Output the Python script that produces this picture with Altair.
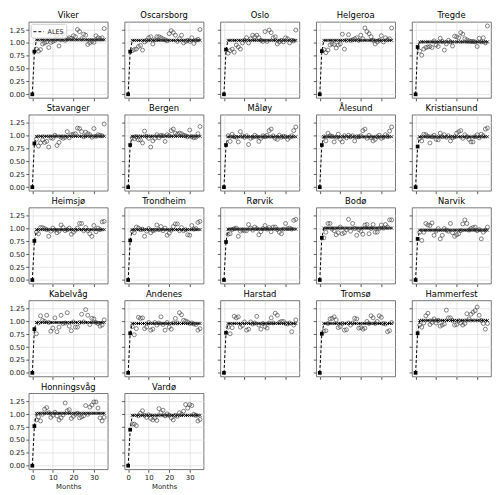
import altair as alt
import pandas as pd

NAMES = ["Viker", "Oscarsborg", "Oslo", "Helgeroa", "Tregde",
         "Stavanger", "Bergen", "Måløy", "Ålesund", "Kristiansund",
         "Heimsjø", "Trondheim", "Rørvik", "Bodø", "Narvik",
         "Kabelvåg", "Andenes", "Harstad", "Tromsø", "Hammerfest",
         "Honningsvåg", "Vardø"]

# ALES level reached from month 2 onward, and value at month 1
PLATEAU = [1.06, 1.05, 1.05, 1.05, 1.02,
           0.99, 0.99, 0.98, 0.98, 0.98,
           0.98, 0.98, 0.99, 1.01, 0.97,
           0.98, 0.96, 0.96, 0.96, 1.02,
           1.02, 0.98]
MONTH1 = [0.83, 0.83, 0.87, 0.84, 0.92,
          0.85, 0.82, 0.82, 0.82, 0.79,
          0.76, 0.77, 0.74, 0.82, 0.80,
          0.85, 0.77, 0.78, 0.76, 0.77,
          0.77, 0.70]

# observed values, months 2..35
OBS_VIKER = [0.88, 0.84, 0.87, 0.98, 1.00, 1.02, 0.91, 1.01, 1.03, 1.05, 1.14, 0.94, 1.06, 1.18, 1.05, 1.08, 1.10,
             1.09, 1.14, 1.12, 1.26, 1.22, 1.08, 1.17, 1.15, 0.97, 1.00, 1.03, 1.01, 1.14, 1.10, 1.08, 1.10, 1.28]
OBS_OSCARSBORG = [0.85, 0.87, 0.88, 0.93, 0.95, 0.86, 1.02, 1.05, 1.10, 1.12, 0.98, 1.06, 1.12, 1.12, 1.10, 1.08, 1.06,
                  1.04, 1.18, 1.24, 1.20, 1.15, 1.03, 1.08, 1.15, 1.00, 1.03, 1.05, 1.03, 1.10, 0.99, 1.05, 1.07, 1.26]
OBS_OSLO = [0.80, 0.85, 0.88, 0.82, 0.96, 0.92, 0.88, 1.00, 1.05, 1.10, 1.00, 1.08, 1.15, 1.12, 1.15, 1.10, 1.05,
            1.03, 1.22, 1.03, 1.25, 1.20, 1.10, 1.12, 0.98, 1.02, 1.05, 1.02, 1.10, 1.08, 1.00, 1.05, 1.04, 1.25]
OBS_HELGEROA = [0.87, 0.81, 0.86, 0.96, 0.98, 0.97, 0.90, 0.96, 0.98, 1.17, 0.88, 1.05, 1.16, 1.05, 1.06, 1.08, 1.10,
                1.05, 1.15, 1.08, 1.29, 1.22, 1.18, 1.12, 1.05, 0.98, 1.02, 1.05, 1.14, 1.02, 1.10, 1.06, 1.08, 1.29]
OBS_TREGDE = [0.84, 0.76, 0.88, 0.91, 0.92, 0.93, 0.91, 1.04, 0.96, 0.93, 1.09, 1.03, 0.86, 0.98, 1.05, 1.02, 0.94,
              1.13, 1.12, 1.10, 1.20, 1.17, 1.08, 1.06, 1.04, 1.03, 1.03, 1.02, 0.93, 1.09, 1.02, 1.10, 1.00, 1.33]
OBS_STAVANGER = [0.93, 0.80, 0.86, 0.92, 0.87, 0.89, 0.78, 0.96, 0.95, 1.01, 0.81, 0.87, 0.97, 0.95, 0.97, 1.08, 0.96,
                 1.02, 1.03, 1.04, 1.15, 1.14, 1.08, 0.98, 1.07, 1.04, 1.02, 0.97, 1.14, 0.99, 1.02, 1.01, 1.00, 1.23]
OBS_BERGEN = [0.96, 0.94, 0.98, 0.92, 0.92, 0.86, 1.09, 0.99, 0.95, 0.78, 0.90, 0.95, 1.02, 0.96, 1.01, 1.00, 0.89,
              1.02, 1.00, 1.10, 1.13, 1.05, 1.03, 1.05, 1.04, 1.01, 1.00, 0.98, 1.11, 0.98, 0.96, 0.97, 1.04, 1.18]
OBS_MALOY = [1.00, 0.89, 1.03, 0.98, 0.97, 0.88, 1.08, 1.00, 0.97, 1.00, 0.83, 0.95, 0.97, 1.01, 0.98, 0.89, 0.95,
             1.00, 0.98, 1.01, 1.10, 1.13, 1.00, 0.95, 0.93, 1.01, 0.97, 0.99, 0.98, 0.93, 0.97, 1.00, 1.10, 1.17]
OBS_ALESUND = [0.98, 0.90, 1.05, 1.00, 0.99, 0.88, 0.97, 1.03, 0.93, 0.88, 1.00, 0.96, 1.01, 0.98, 1.00, 0.90, 0.98,
               0.98, 1.00, 1.10, 1.13, 0.95, 1.01, 0.96, 0.90, 0.93, 0.98, 1.01, 0.95, 0.97, 1.02, 0.99, 1.09, 1.17]
OBS_KRISTIANSUND = [0.95, 0.90, 1.03, 1.02, 0.99, 0.86, 0.98, 1.01, 0.93, 0.92, 1.05, 0.98, 1.02, 0.97, 1.00, 0.90, 0.96,
                    0.98, 1.05, 1.08, 1.10, 0.95, 1.02, 0.98, 0.93, 0.88, 0.88, 0.98, 1.02, 0.96, 1.03, 1.00, 1.13, 1.15]
OBS_HEIMSJO = [0.93, 0.90, 1.02, 1.02, 1.00, 0.98, 0.85, 0.95, 1.01, 0.97, 0.92, 0.95, 1.07, 1.02, 0.96, 0.98, 1.01,
               0.89, 0.93, 0.97, 1.01, 1.10, 1.10, 0.96, 1.02, 0.96, 0.90, 0.85, 1.06, 0.94, 1.01, 0.98, 1.13, 1.14]
OBS_TRONDHEIM = [0.95, 0.92, 1.03, 1.01, 0.98, 0.99, 0.85, 0.95, 1.00, 0.92, 0.96, 0.97, 1.07, 0.98, 1.04, 0.96, 1.01,
                 0.87, 0.91, 0.97, 1.04, 1.09, 1.09, 0.96, 1.02, 0.96, 0.98, 0.88, 0.87, 1.06, 0.99, 1.00, 1.12, 1.14]
OBS_RORVIK = [0.89, 0.90, 0.98, 1.00, 1.01, 0.85, 0.95, 0.97, 0.96, 0.96, 1.08, 1.01, 0.97, 1.03, 1.00, 0.88, 0.94,
              1.00, 1.06, 0.99, 1.02, 0.94, 1.03, 1.03, 0.98, 0.93, 0.90, 0.99, 1.10, 1.00, 1.01, 0.99, 1.16, 1.18]
OBS_BODO = [0.82, 0.93, 1.10, 1.10, 0.99, 0.96, 0.88, 0.92, 1.03, 0.90, 0.92, 0.98, 1.18, 0.95, 1.10, 1.00, 0.87,
            0.98, 0.95, 0.89, 1.07, 1.08, 0.90, 1.00, 1.08, 0.93, 0.93, 1.00, 1.07, 1.01, 1.08, 1.03, 1.17, 1.17]
OBS_NARVIK = [0.93, 0.77, 0.93, 1.10, 1.07, 1.06, 1.11, 0.87, 0.95, 1.00, 0.80, 0.87, 1.00, 0.97, 0.95, 1.10, 0.92,
              0.85, 0.88, 0.90, 0.96, 1.09, 1.17, 1.10, 0.97, 1.00, 1.02, 1.03, 0.96, 0.98, 0.80, 0.93, 0.97, 1.03]
OBS_KABELVAG = [0.76, 0.97, 1.11, 1.02, 1.00, 1.12, 0.98, 0.81, 0.87, 1.07, 0.80, 0.89, 1.12, 0.96, 0.97, 1.17, 0.91,
                0.82, 0.99, 0.89, 0.89, 0.98, 1.14, 0.99, 1.23, 1.12, 0.94, 1.06, 1.05, 0.98, 0.96, 0.91, 0.93, 1.03]
OBS_ANDENES = [0.90, 0.74, 0.86, 1.08, 1.06, 1.07, 0.86, 0.89, 0.98, 0.83, 0.85, 0.98, 0.93, 0.97, 1.09, 0.94, 0.83,
               0.98, 0.89, 0.85, 0.97, 1.06, 0.97, 1.17, 1.13, 1.02, 1.01, 0.99, 0.96, 0.97, 0.95, 0.94, 0.83, 0.86]
OBS_HARSTAD = [0.89, 0.76, 0.88, 1.10, 1.07, 1.09, 0.89, 0.92, 0.99, 0.83, 0.85, 0.99, 0.95, 0.97, 1.10, 0.93, 0.85,
               0.96, 0.90, 0.87, 0.97, 1.07, 0.97, 1.16, 1.12, 0.98, 1.00, 1.00, 0.96, 0.95, 0.97, 0.80, 0.93, 1.03]
OBS_TROMSO = [0.81, 0.82, 0.96, 1.05, 1.06, 1.09, 1.03, 0.88, 0.90, 0.96, 0.83, 0.84, 0.97, 0.93, 0.97, 1.06, 1.05,
              0.87, 0.88, 0.85, 0.87, 1.00, 0.96, 1.11, 1.07, 0.96, 1.00, 1.11, 1.08, 0.96, 0.95, 0.80, 0.82, 0.98]
OBS_HAMMERFEST = [0.93, 0.89, 0.97, 1.11, 1.16, 0.94, 0.98, 1.05, 0.97, 1.02, 0.91, 0.93, 0.95, 1.22, 1.07, 1.07, 1.02,
                  0.93, 0.94, 1.01, 0.97, 0.93, 0.96, 1.15, 1.05, 1.14, 1.18, 1.21, 1.28, 1.12, 1.02, 0.96, 0.85, 0.96]
OBS_HONNINGSVAG = [0.89, 0.95, 0.87, 1.00, 1.10, 1.13, 1.03, 0.94, 0.98, 1.04, 0.97, 0.89, 0.93, 0.99, 1.22, 1.07, 1.09,
                   0.92, 0.96, 1.00, 1.02, 0.93, 0.95, 0.97, 1.17, 1.00, 1.14, 1.18, 1.24, 1.24, 1.12, 0.93, 0.87, 0.94]
OBS_VARDO = [0.81, 0.81, 0.78, 0.97, 1.02, 1.07, 0.98, 0.94, 0.99, 0.92, 0.89, 0.93, 0.88, 1.11, 1.03, 1.08, 0.97,
             1.01, 0.98, 0.93, 0.89, 0.98, 0.96, 1.03, 1.00, 1.06, 1.19, 1.12, 1.19, 1.17, 1.00, 0.98, 0.87, 0.90]

OBS = [OBS_VIKER, OBS_OSCARSBORG, OBS_OSLO, OBS_HELGEROA, OBS_TREGDE,
       OBS_STAVANGER, OBS_BERGEN, OBS_MALOY, OBS_ALESUND, OBS_KRISTIANSUND,
       OBS_HEIMSJO, OBS_TRONDHEIM, OBS_RORVIK, OBS_BODO, OBS_NARVIK,
       OBS_KABELVAG, OBS_ANDENES, OBS_HARSTAD, OBS_TROMSO, OBS_HAMMERFEST,
       OBS_HONNINGSVAG, OBS_VARDO]

MONTHS = list(range(36))
OBS_MONTHS = list(range(2, 36))
X_TICKS = [0, 10, 20, 30]
Y_TICKS = [0.0, 0.25, 0.5, 0.75, 1.0, 1.25]

XDOM = [-1.75, 36.75]
YDOM = [-0.07, 1.41]
W, H = 80, 77
FONT = "DejaVu Sans"
XSHAPE = "M-1,-1L1,1M-1,1L1,-1"


def panel(i, show_y, show_x, legend):
    ales = [0.0, MONTH1[i]] + [PLATEAU[i]] * len(OBS_MONTHS)
    line_df = pd.DataFrame({"month": MONTHS, "value": ales, "series": ["ALES"] * len(MONTHS)})
    cross_df = pd.DataFrame({"month": OBS_MONTHS, "value": ales[2:]})
    start_df = pd.DataFrame({"month": MONTHS[:2], "value": ales[:2]})
    obs_df = pd.DataFrame({"month": OBS_MONTHS, "value": OBS[i]})

    x = alt.X("month:Q", scale=alt.Scale(domain=XDOM, nice=False, zero=False),
              axis=alt.Axis(values=X_TICKS, labels=show_x, title="Months" if show_x else None,
                            grid=True, format="d"))
    y = alt.Y("value:Q", scale=alt.Scale(domain=YDOM, nice=False, zero=False),
              axis=alt.Axis(values=Y_TICKS, labels=show_y, title=None, grid=True, format=".2f"))

    if legend:
        line = alt.Chart(line_df).mark_line(color="black", strokeWidth=1, clip=True).encode(
            x=x, y=y,
            strokeDash=alt.StrokeDash("series:N", scale=alt.Scale(domain=["ALES"], range=[[3, 2]]),
                                      legend=alt.Legend(orient="top-left", title=None, symbolType="stroke",
                                                        symbolStrokeColor="black", symbolStrokeWidth=1,
                                                        symbolSize=110, labelFontSize=6.5, labelFont=FONT,
                                                        labelColor="#222222", padding=2, rowPadding=0,
                                                        fillColor="rgba(255,255,255,0.8)",
                                                        strokeColor="#cccccc", cornerRadius=2, offset=2,
                                                        labelOffset=3)))
    else:
        line = alt.Chart(line_df).mark_line(color="black", strokeWidth=1, strokeDash=[3, 2],
                                            clip=True).encode(x=x, y=y)

    crosses = alt.Chart(cross_df).mark_point(shape=XSHAPE, filled=False, stroke="black",
                                             strokeWidth=0.8, size=9, opacity=1).encode(x=x, y=y)
    circles = alt.Chart(obs_df).mark_point(shape="circle", filled=False, stroke="#333333",
                                           strokeWidth=0.6, size=16, opacity=1).encode(x=x, y=y)
    squares = alt.Chart(start_df).mark_point(shape="square", filled=True, color="black",
                                             size=14, opacity=1).encode(x=x, y=y)

    return alt.layer(line, crosses, circles, squares).properties(
        width=W, height=H, title=alt.TitleParams(NAMES[i], fontSize=8.5, font=FONT,
                                                 fontWeight="normal", offset=2, color="black"))


rows = []
n = len(NAMES)
for r in range(5):
    idx = list(range(r * 5, min(r * 5 + 5, n)))
    panels = []
    for c, i in enumerate(idx):
        show_x = i >= n - 2
        panels.append(panel(i, show_y=(c == 0), show_x=show_x, legend=(i == 0)))
    row = alt.hconcat(*panels, spacing=12)
    if r == 0:
        row = row.resolve_scale(strokeDash="independent").resolve_legend(strokeDash="independent")
    rows.append(row)

chart = alt.vconcat(*rows, spacing=2).resolve_scale(strokeDash="independent").resolve_legend(
    strokeDash="independent").configure_view(stroke="#555555", strokeWidth=0.8).configure_axis(
    labelFontSize=7, labelFont=FONT, labelColor="#222222", tickSize=3, tickColor="#333333",
    tickWidth=0.8, domain=False, gridColor="#e0e0e0", gridWidth=0.8, labelPadding=1.5,
    titleFontSize=7, titleFont=FONT, titleFontWeight="normal", titleColor="#222222", titlePadding=2
).properties(padding=0)

chart.save("out.html", embed_options={"renderer": "svg", "actions": False})
